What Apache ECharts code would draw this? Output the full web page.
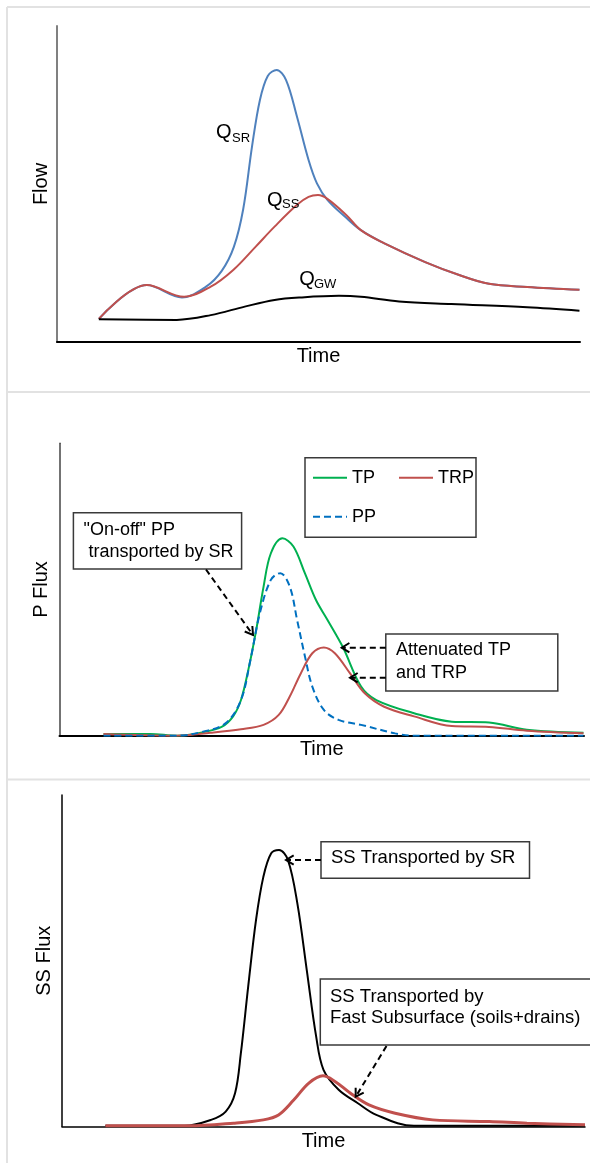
<!DOCTYPE html>
<html>
<head>
<meta charset="utf-8">
<script src="https://cdn.jsdelivr.net/npm/echarts@6/dist/echarts.min.js"></script>
<style>
html,body{margin:0;padding:0;background:#fff;}
#c{width:590px;height:1163px;}
</style>
</head>
<body>
<div id="c"></div>
<script>
// ---------- Panel 1: Flow components (time, flow) ----------
const flowSR = [[8,7.3],[17.2,18],[23.9,14.1],[28.5,17.5],[31.5,22.5],[33.8,30],[35.6,42],[37.3,62],[38.8,76.6],[40.3,84.2],[42,86.1],[43.8,82.9],[45.9,71.2],[48.1,57.6],[49.7,50.2],[51.7,45],[55.3,39.3],[58.1,35.4],[62.5,31.3],[70.4,25.3],[76.9,21.2],[82.6,18.4],[89.9,17.4],[99.9,16.5]];
const flowSS = [[8,7.3],[17.2,18],[24.3,14.3],[29.4,17.5],[33.7,22.8],[38,30.2],[41.6,36.5],[45.9,43.4],[48.1,45.9],[49.9,46.5],[51.7,45.3],[55.3,40.2],[58.1,35.4],[62.5,31.3],[70.4,25.3],[76.9,21.2],[82.6,18.4],[89.9,17.4],[99.9,16.5]];
const flowGW = [[8,7.2],[22.9,7],[29.4,8.5],[35.9,11.2],[41.6,13.3],[46.7,14.1],[53.9,14.6],[58.1,14.3],[65.4,12.8],[75.4,12],[89.9,11],[99.9,9.9]];

// ---------- Panel 2: P flux ----------
const pTP = [[8.4,0.6],[17.3,0.6],[22.4,0],[27.4,1.2],[31,3.1],[33.1,6.6],[34.6,12.2],[36,22.5],[37.5,36.1],[38.9,50.9],[40.3,62.4],[42.5,67.5],[44.6,64.7],[46.8,55.5],[48.9,46.4],[51.1,39.6],[54,30.4],[57.5,16.8],[60.4,12.2],[67.6,7.7],[74.8,4.8],[81.9,4.5],[89.1,2],[99.9,1]];
const pTRP = [[8.4,0.6],[22.4,0],[28.8,1],[34.6,2.2],[38.9,3.7],[41.8,7.1],[43.9,13.4],[46,21.3],[48.2,28.2],[50.4,30.2],[52.5,28.2],[55.4,21.3],[58.2,14.5],[61.9,9.9],[67.6,6.6],[74.8,3.3],[81.9,3],[89.1,1.7],[99.9,0.8]];
const pPP = [[8.4,0],[22.4,0],[27.4,1.4],[31.7,4.3],[34.6,12.2],[36.4,25.9],[38.2,41.9],[40.3,53.3],[42.1,55.6],[43.9,51],[45.3,39.6],[46.8,27.1],[48.2,16.8],[50.4,8.8],[53.2,5.4],[57.5,3.7],[64,0.8],[67.6,0],[99.9,0]];

// ---------- Panel 3: SS flux ----------
const ssSR = [[8.3,0.2],[23.4,0.2],[28.5,2],[31.3,4.5],[33.1,10.1],[34.2,22.1],[35.6,42.2],[37.1,62.3],[38.5,75.3],[40,82.4],[41.5,83.4],[43.2,80.4],[45,67.3],[46.8,47.2],[48.6,27.1],[50,17.1],[52.9,11.1],[56.5,7.1],[60.1,3.5],[67.3,0.2],[100,0.2]];
const ssFast = [[8.3,0.2],[24.1,0.2],[32.8,1],[38.5,2],[41.4,3.5],[44.3,8],[47.2,13.1],[49.9,15.3],[52.2,13.6],[55.1,10.1],[58.7,6.5],[63.7,4],[70.9,2],[81.7,1.5],[88.9,1],[100,0.5]];

const legendRow1 = ['TP','TRP'];
const legendRow2 = ['PP'];

const FONT = '"Liberation Sans", Arial, sans-serif';

const chart = echarts.init(document.getElementById('c'), null, {renderer:'canvas'});

function xAx(gi, gap){
  return {gridIndex:gi, type:'value', min:0, max:100, name:'Time', nameLocation:'middle', nameGap:gap,
    nameTextStyle:{fontSize:20, fontFamily:FONT, color:'#000'},
    axisLine:{show:true, onZero:false, lineStyle:{color:'#000', width:gi===2?1.5:2}},
    axisTick:{show:false}, axisLabel:{show:false}, splitLine:{show:false}};
}
function yAx(gi, name, gap, color, w){
  return {gridIndex:gi, type:'value', min:0, max:100, name:name, nameLocation:'middle', nameGap:gap,
    nameTextStyle:{fontSize:20, fontFamily:FONT, color:'#000'},
    axisLine:{show:true, lineStyle:{color:color, width:w}},
    axisTick:{show:false}, axisLabel:{show:false}, splitLine:{show:false}};
}
function line(name, gi, data, color, width, type){
  return {name:name, type:'line', xAxisIndex:gi, yAxisIndex:gi, data:data, smooth:0.35,
    symbol:'none', showSymbol:false, silent:true,
    lineStyle:{color:color, width:width, type:type||'solid'}, itemStyle:{color:color}};
}
function arrow(x1,y1,x2,y2){
  const a = Math.atan2(y2-y1, x2-x1), L = 9, w = 0.55;
  const p1 = [x2 - L*Math.cos(a-w), y2 - L*Math.sin(a-w)];
  const p2 = [x2 - L*Math.cos(a+w), y2 - L*Math.sin(a+w)];
  return [
    {type:'line', shape:{x1:x1,y1:y1,x2:x2,y2:y2}, style:{stroke:'#000', lineWidth:2, lineDash:[6,4]}, z:20},
    {type:'polyline', shape:{points:[p1,[x2,y2],p2]}, style:{stroke:'#000', lineWidth:2, fill:null}, z:20}
  ];
}
function box(x,y,w,h){
  return {type:'rect', shape:{x:x,y:y,width:w,height:h}, style:{fill:'#fff', stroke:'#3a3a3a', lineWidth:1.5}, z:15};
}
function txt(s,x,y,size){
  return {type:'text', x:x, y:y, style:{text:s, fontSize:size||18, fontFamily:FONT, fill:'#000', verticalAlign:'middle', align:'left'}, z:25};
}
function frameLine(x1,y1,x2,y2){
  return {type:'line', shape:{x1:x1,y1:y1,x2:x2,y2:y2}, style:{stroke:'#e2e2e2', lineWidth:2}, z:1};
}

const graphics = [
  frameLine(7,7,590,7), frameLine(7,7,7,1163), frameLine(7,392,590,392), frameLine(7,779.5,590,779.5),
  // Panel 1 labels
  txt('Q',216,132.5,20), txt('SR',232,138.7,13),
  txt('Q',267,200,20), txt('SS',282,204.7,13),
  txt('Q',299.2,279,20), txt('GW',314,284,13),
  // Panel 2 legend box
  {type:'rect', shape:{x:305,y:457.7,width:171,height:79.6}, style:{fill:null, stroke:'#3a3a3a', lineWidth:1.5}, z:15},
  box(73.4,512.7,168.2,56.3), txt('"On-off" PP',83.5,529.7), txt('transported by SR',88.4,552),
  box(385.8,634,172,57), txt('Attenuated TP',396,650), txt('and TRP',396,672.7),
  ...arrow(206,569.5,253,635), ...arrow(385.8,647.7,341.7,647.7), ...arrow(385.8,677.7,350,677.7),
  // Panel 3
  box(321,841.7,208.5,36.6), txt('SS Transported by SR',331,858.3,18.5),
  box(320.3,979,290,66), txt('SS Transported by',330,996.7,18.5), txt('Fast Subsurface (soils+drains)',330,1018.3,18.5),
  ...arrow(321,860,286,860), ...arrow(386.5,1046,355.7,1096.7)
];

const legendCommon = {left:312, itemWidth:34, itemHeight:14, itemGap:23, padding:0, selectedMode:false,
  itemStyle:{opacity:0, borderWidth:0},
  textStyle:{fontSize:18, fontFamily:FONT, color:'#000', lineHeight:20}};

const option = {
  animation:false,
  backgroundColor:'#fff',
  grid:[
    {left:57, top:26, width:523, height:316},
    {left:59.5, top:443.3, width:524.5, height:292.4},
    {left:62, top:795, width:523, height:331.5}
  ],
  xAxis:[xAx(0,4), xAx(1,4), xAx(2,5)],
  yAxis:[yAx(0,'Flow',6,'#808080',2), yAx(1,'P Flux',8,'#444',1.5), yAx(2,'SS Flux',8,'#000',1.5)],
  legend:[
    Object.assign({data:legendRow1, top:467.7}, legendCommon),
    Object.assign({data:legendRow2, top:506.7}, legendCommon)
  ],
  series:[
    line('Q_SR',0,flowSR,'#4F81BD',2),
    line('Q_SS',0,flowSS,'#C0504D',2),
    line('Q_GW',0,flowGW,'#000000',2),
    line('TP',1,pTP,'#00B050',2),
    line('TRP',1,pTRP,'#C0504D',2),
    line('PP',1,pPP,'#0070C0',2,[7,4]),
    line('SS by SR',2,ssSR,'#000000',2),
    line('SS by fast subsurface',2,ssFast,'#C0504D',3)
  ],
  graphic:graphics
};
chart.setOption(option);
</script>
</body>
</html>
